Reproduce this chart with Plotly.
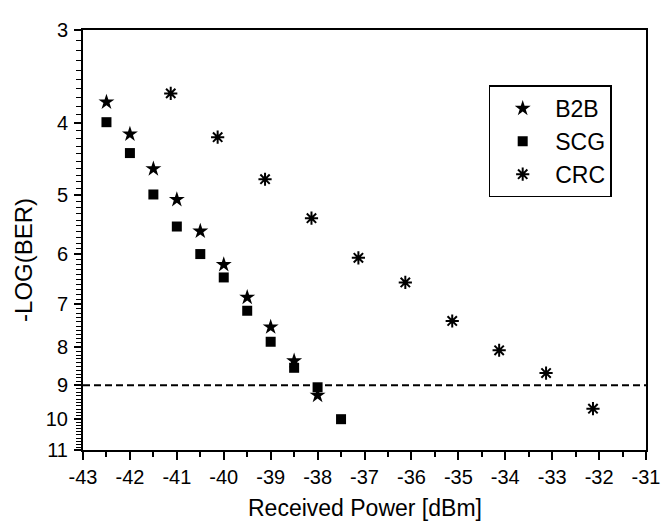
import plotly.graph_objects as go
import numpy as np

# Data
b2b_x = [-42.5, -42.0, -41.5, -41.0, -40.5, -40.0, -39.5, -39.0, -38.5, -38.0]
b2b_y = [3.75, 4.14, 4.61, 5.07, 5.59, 6.20, 6.86, 7.52, 8.35, 9.29]
scg_x = [-42.5, -42.0, -41.5, -41.0, -40.5, -40.0, -39.5, -39.0, -38.5, -38.0, -37.5]
scg_y = [3.99, 4.39, 4.99, 5.51, 6.00, 6.45, 7.15, 7.87, 8.53, 9.06, 10.0]
crc_x = [-41.13, -40.13, -39.12, -38.13, -37.13, -36.13, -35.13, -34.13, -33.13, -32.13]
crc_y = [3.65, 4.18, 4.76, 5.37, 6.07, 6.55, 7.38, 8.08, 8.67, 9.68]
threshold_x = [-43, -31]
threshold_y = [9, 9]

x_ticks = list(range(-43, -30))
x_minor = [v + 0.5 for v in x_ticks[:-1]]
y_ticks = list(range(3, 12))
y_all = [round(3 + 0.1 * i, 1) for i in range(81)]          # 3.0 ... 11.0 step 0.1
y_all_text = [str(int(v)) if abs(v - round(v)) < 1e-6 else "" for v in y_all]

FONT = "Arial, Liberation Sans, sans-serif"
Y_RANGE = [np.log10(11), np.log10(3)]

fig = go.Figure()
fig.add_trace(go.Scatter(x=threshold_x, y=threshold_y, mode="lines", yaxis="y2",
                         line=dict(color="black", width=2, dash="7px,4px"),
                         showlegend=False, hoverinfo="skip"))
fig.add_trace(go.Scatter(x=b2b_x, y=b2b_y, mode="markers", name="B2B",
                         marker=dict(symbol="star", size=12, color="black")))
fig.add_trace(go.Scatter(x=scg_x, y=scg_y, mode="markers", name="SCG",
                         marker=dict(symbol="square", size=10, color="black")))
fig.add_trace(go.Scatter(x=crc_x, y=crc_y, mode="markers", name="CRC",
                         marker=dict(symbol="asterisk-open", size=11, color="black",
                                     line=dict(color="black", width=2))))

# page body has an 8px margin: shrink the figure so it fits the 671x525 window
fig.update_layout(
    width=663, height=517,
    margin=dict(l=75, r=19, t=11, b=75),
    paper_bgcolor="white", plot_bgcolor="white",
    font=dict(family=FONT, size=20, color="black"),
    showlegend=True,
    legend=dict(x=0.7206, y=0.868, xanchor="left", yanchor="top",
                bordercolor="black", borderwidth=1.5, bgcolor="white",
                font=dict(size=23, family=FONT), itemwidth=55,
                entrywidth=118, tracegroupgap=0),
    # main y axis: a short tick at every 0.1 step, labels at integers
    yaxis=dict(
        type="log", range=Y_RANGE,
        tickvals=y_all, ticktext=y_all_text,
        showgrid=False, zeroline=False,
        showline=True, linecolor="black", linewidth=2, mirror=True,
        ticks="outside", ticklen=5, tickwidth=1.3, tickcolor="black",
        tickfont=dict(size=20, family=FONT), ticklabelstandoff=4,
    ),
    # overlay y axis: longer major ticks at integers
    yaxis2=dict(type="log", range=Y_RANGE, overlaying="y", side="left",
                tickvals=y_ticks, showticklabels=False,
                ticks="outside", ticklen=8, tickwidth=1.6, tickcolor="black",
                showline=False, showgrid=False, zeroline=False),
)

fig.update_xaxes(
    range=[-43, -31], tickvals=x_ticks, ticktext=[str(v) for v in x_ticks],
    showgrid=False, zeroline=False,
    showline=True, linecolor="black", linewidth=2, mirror=True,
    ticks="outside", ticklen=8, tickwidth=1.6, tickcolor="black",
    tickfont=dict(size=20, family=FONT),
    minor=dict(tickvals=x_minor, ticks="outside",
               ticklen=5, tickwidth=1.5, tickcolor="black", showgrid=False),
)

fig.add_annotation(text="Received Power [dBm]", xref="paper", yref="paper",
                   x=0.5, y=-0.137, xanchor="center", yanchor="middle",
                   showarrow=False, font=dict(size=23, family=FONT))
fig.add_annotation(text="-LOG(BER)", xref="paper", yref="paper",
                   x=-0.107, y=0.452, xanchor="center", yanchor="middle",
                   textangle=-90, showarrow=False, font=dict(size=24, family=FONT))

fig.write_html("out.html")
